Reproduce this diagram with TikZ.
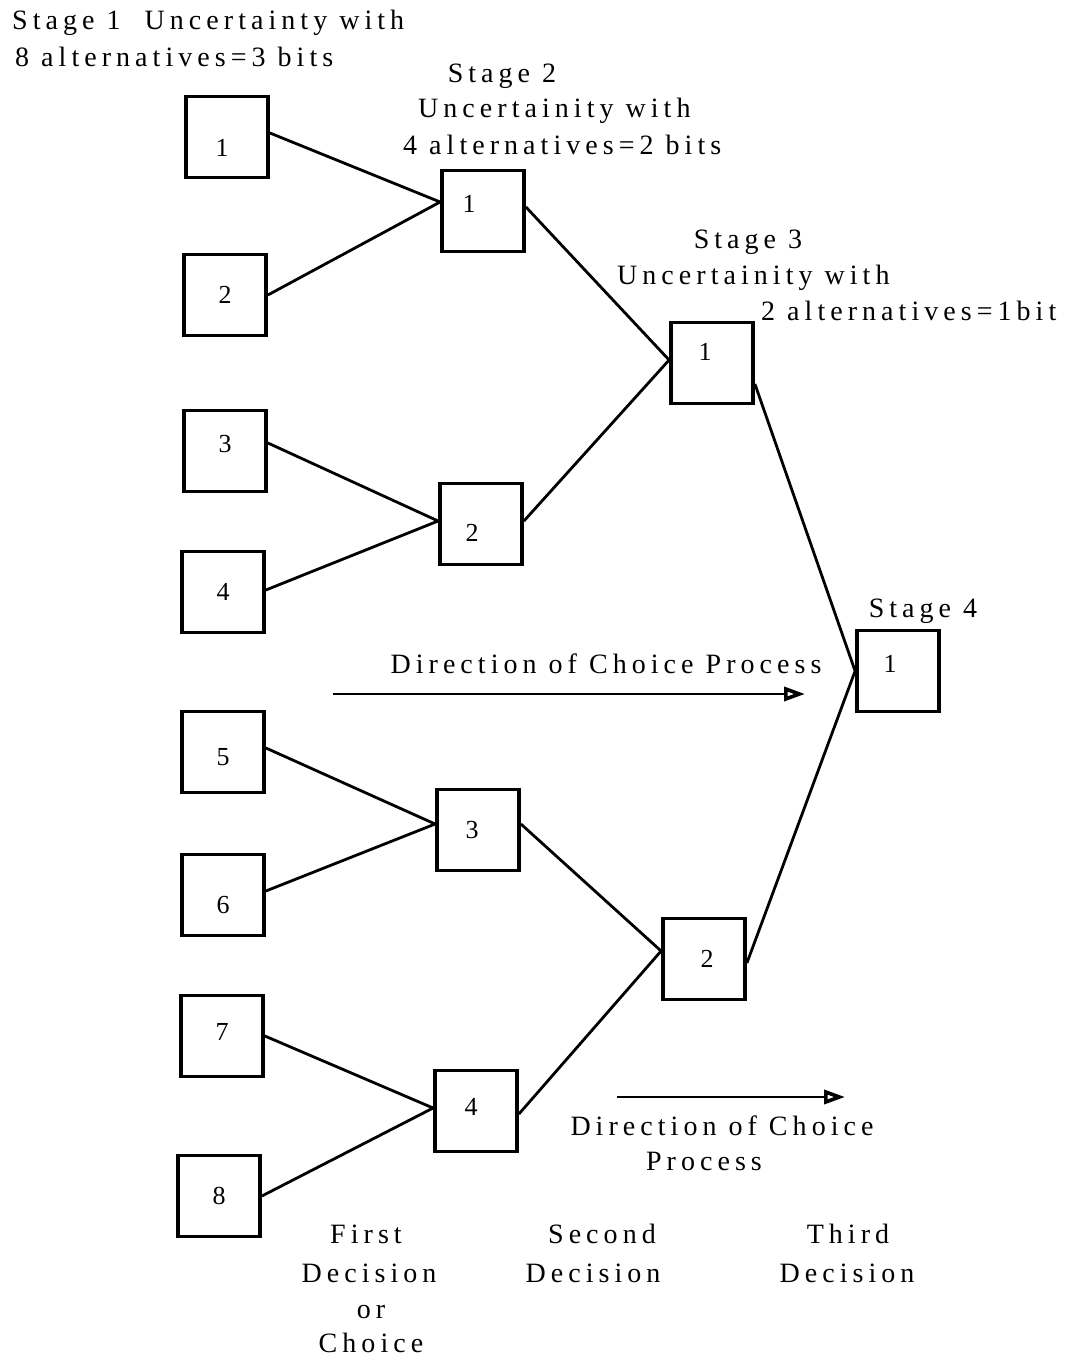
\documentclass[tikz,border=0pt]{standalone}
\usepackage{fontspec}
\setmainfont{Liberation Serif}[LetterSpace=18]
\usetikzlibrary{arrows.meta}
\begin{document}
\begin{tikzpicture}[x=1pt,y=-1pt,
  box/.style={draw,line width=3.8pt,minimum width=82pt,minimum height=81pt,inner sep=0pt},
  every label/.style={inner sep=0pt,font=\fontsize{26}{28}\selectfont},
  link/.style={line width=2.8pt},
  lbl/.style={inner sep=0pt,font=\fontsize{28}{32}\selectfont},
  flow/.style={line width=2.8pt,-{Triangle[open,length=21pt,width=14pt,line width=3.6pt]}}]
\useasboundingbox (0,0) rectangle (1066,1356);
% first decision: eight alternatives
\node[box,label={[xshift=-5pt,yshift=-11pt]center:1}] (a1) at (227,137) {};
\node[box,label={center:2}] (a2) at (225,295) {};
\node[box,label={[yshift=7pt]center:3}] (a3) at (225,451) {};
\node[box,label={center:4}] (a4) at (223,592) {};
\node[box,label={[yshift=-5pt]center:5}] (a5) at (223,752) {};
\node[box,label={[yshift=-10pt]center:6}] (a6) at (223,895) {};
\node[box,label={[yshift=4pt]center:7}] (a7) at (222,1036) {};
\node[box,label={center:8}] (a8) at (219,1196) {};
% second decision
\node[box,label={[xshift=-14pt,yshift=7pt]center:1}] (b1) at (483,211) {};
\node[box,label={[xshift=-9pt,yshift=-9pt]center:2}] (b2) at (481,524) {};
\node[box,label={[xshift=-6pt]center:3}] (b3) at (478,830) {};
\node[box,label={[xshift=-5pt,yshift=4pt]center:4}] (b4) at (476,1111) {};
% third decision
\node[box,label={[xshift=-7pt,yshift=11pt]center:1}] (c1) at (712,363) {};
\node[box,label={[xshift=3pt]center:2}] (c2) at (704,959) {};
% final stage
\node[box,label={[xshift=-8pt,yshift=7pt]center:1}] (d1) at (898,671) {};
% connectors
\draw[link] ([yshift=4pt]a1.east) -- ([yshift=9pt]b1.west);
\draw[link] (a2.east) -- ([yshift=9pt]b1.west);
\draw[link] ([yshift=8pt]a3.east) -- ([yshift=3pt]b2.west);
\draw[link] ([yshift=2pt]a4.east) -- ([yshift=3pt]b2.west);
\draw[link] ([yshift=4pt]a5.east) -- ([yshift=6pt]b3.west);
\draw[link] ([yshift=4pt]a6.east) -- ([yshift=6pt]b3.west);
\draw[link] (a7.east) -- ([yshift=3pt]b4.west);
\draw[link] (a8.east) -- ([yshift=3pt]b4.west);
\draw[link] ([yshift=4pt]b1.east) -- ([yshift=3pt]c1.west);
\draw[link] ([yshift=3pt]b2.east) -- ([yshift=3pt]c1.west);
\draw[link] ([yshift=6pt]b3.east) -- ([yshift=8pt]c2.west);
\draw[link] ([yshift=-3pt]b4.east) -- ([yshift=8pt]c2.west);
\draw[link] ([yshift=-21pt]c1.east) -- (d1.west);
\draw[link] ([yshift=-4pt]c2.east) -- (d1.west);
% stage headings
\node[lbl,anchor=base west] (s1a) at (12,30) {Stage 1\ \ Uncertainty with};
\node[lbl,anchor=base west] (s1b) at (15,67) {8 alternatives=3 bits};
\node[lbl,anchor=base] (s2a) at (502,83) {Stage 2};
\node[lbl,anchor=base west] (s2b) at (418,118) {Uncertainity with};
\node[lbl,anchor=base west] (s2c) at (403,155) {4 alternatives=2 bits};
\node[lbl,anchor=base] (s3a) at (748,248) {Stage 3};
\node[lbl,anchor=base west] (s3b) at (617,284) {Uncertainity with};
\node[lbl,anchor=base west] (s3c) at (761,320) {2 alternatives=1bit};
\node[lbl,anchor=base] (s4) at (923,617) {Stage 4};
% direction arrows
\node[lbl,anchor=base] (dir1) at (606,673) {Direction of Choice Process};
\coordinate (p1) at (333,694);
\coordinate (q1) at (805,694);
\draw[flow] (p1) -- (q1);
\coordinate (p2) at (617,1097);
\coordinate (q2) at (845,1097);
\draw[flow] (p2) -- (q2);
\node[lbl,anchor=base] (dir2a) at (722,1135) {Direction of Choice};
\node[lbl,anchor=base] (dir2b) at (704,1170) {Process};
% decision captions
\node[lbl,anchor=base] (dec1a) at (366,1243) {First};
\node[lbl,anchor=base] (dec1b) at (369,1282) {Decision};
\node[lbl,anchor=base] (dec1c) at (371,1318) {or};
\node[lbl,anchor=base] (dec1d) at (371,1352) {Choice};
\node[lbl,anchor=base] (dec2a) at (602,1243) {Second};
\node[lbl,anchor=base] (dec2b) at (593,1282) {Decision};
\node[lbl,anchor=base] (dec3a) at (848,1243) {Third};
\node[lbl,anchor=base] (dec3b) at (847,1282) {Decision};
\end{tikzpicture}
\end{document}
